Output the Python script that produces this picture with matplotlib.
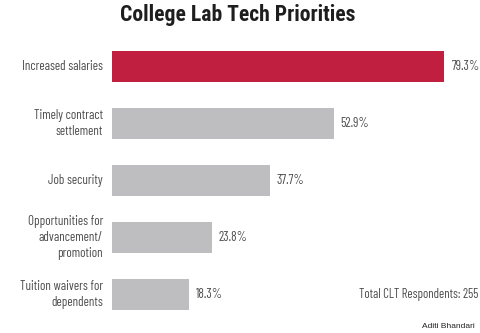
import matplotlib
matplotlib.use("Agg")
import matplotlib.pyplot as plt

# Survey results: share of college lab tech respondents naming each priority
categories = [
    "Increased salaries",
    "Timely contract\nsettlement",
    "Job security",
    "Opportunities for\nadvancement/\npromotion",
    "Tuition waivers for\ndependents",
]
percentages = [79.3, 52.9, 37.7, 23.8, 18.3]
highlight_color = "#C01F3F"
base_color = "#BEBEC0"
total_respondents = 255

COND = "Barlow Condensed"
TEXT_GREY = "#4d4d4d"

fig = plt.figure(figsize=(4.8, 3.33), dpi=100)
W, H = 480, 333
left_px, right_px = 112, 480
top_px, bottom_px = 38, 323
ax = fig.add_axes([left_px / W, 1 - bottom_px / H,
                   (right_px - left_px) / W, (bottom_px - top_px) / H])

colors = [highlight_color] + [base_color] * (len(categories) - 1)
y = list(range(len(categories)))
ax.barh(y, percentages, height=0.53, color=colors, edgecolor="none")

ax.set_xlim(0, (right_px - left_px) / 4.19)
ax.set_ylim(len(categories) - 0.5, -0.5)
ax.axis("off")

for yi, (cat, val) in enumerate(zip(categories, percentages)):
    ax.annotate(cat, xy=(0, yi), xytext=(-9, 0), textcoords="offset pixels",
                ha="right", va="center", fontsize=9.4, family=COND,
                color=TEXT_GREY, linespacing=1.35, multialignment="right")
    ax.annotate(f"{val}%", xy=(val, yi), xytext=(7, 0), textcoords="offset pixels",
                ha="left", va="center", fontsize=9.4, family=COND, color=TEXT_GREY)

ax.annotate(f"Total CLT Respondents: {total_respondents}", xy=(1, 4),
            xycoords=("axes fraction", "data"), xytext=(-2, 0),
            textcoords="offset pixels", ha="right", va="center",
            fontsize=9.2, family=COND, color=TEXT_GREY)

fig.text(238 / W, 1 - 15 / H, "College Lab Tech Priorities", ha="center",
         va="center", fontsize=15.6, family="Roboto Condensed", weight="bold",
         color="#1e1e1e")

fig.text(475 / W, 1 - 327 / H, "Aditi Bhandari", ha="right", va="center",
         fontsize=6, family="Liberation Sans", color="#222222")

fig.savefig("out.png", dpi=100)
